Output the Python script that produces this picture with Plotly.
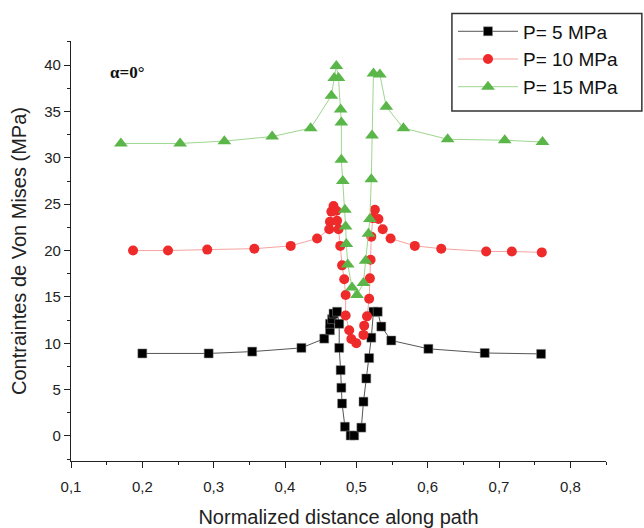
import plotly.graph_objects as go

# ---- data ----
x_p5 = [0.200, 0.293, 0.354, 0.423, 0.455, 0.463, 0.463, 0.466, 0.468, 0.473, 0.476, 0.476,
        0.478, 0.479, 0.480, 0.484, 0.492, 0.497, 0.507, 0.510, 0.514, 0.518, 0.521, 0.524,
        0.530, 0.535, 0.549, 0.601, 0.680, 0.759]
y_p5 = [8.9, 8.9, 9.1, 9.5, 10.5, 11.4, 12.1, 12.6, 13.2, 13.4, 12.1, 9.5,
        7.1, 5.2, 3.5, 1.0, 0.05, 0.05, 0.9, 3.7, 6.2, 8.4, 10.6, 13.4,
        13.4, 11.8, 10.3, 9.4, 8.95, 8.85]

x_p10 = [0.187, 0.236, 0.291, 0.357, 0.408, 0.445, 0.462, 0.463, 0.465, 0.468, 0.472, 0.473,
         0.475, 0.4775, 0.480, 0.483, 0.485, 0.485, 0.490, 0.493, 0.500, 0.510, 0.511, 0.515,
         0.518, 0.519, 0.520, 0.521, 0.523, 0.526, 0.531, 0.537, 0.548, 0.582, 0.619, 0.682,
         0.718, 0.760]
y_p10 = [20.0, 20.0, 20.1, 20.2, 20.5, 21.3, 22.3, 23.1, 24.2, 24.8, 24.3, 23.2,
         22.3, 20.5, 18.4, 16.9, 15.2, 13.0, 11.4, 10.45, 10.0, 10.9, 11.9, 12.9,
         14.8, 17.0, 19.0, 21.5, 23.5, 24.4, 23.4, 22.3, 21.3, 20.5, 20.2, 19.9,
         19.9, 19.8]

x_p15 = [0.170, 0.253, 0.315, 0.382, 0.436, 0.465, 0.469, 0.472, 0.475, 0.478, 0.479, 0.479,
         0.481, 0.484, 0.485, 0.486, 0.488, 0.494, 0.501, 0.510, 0.513, 0.517, 0.519, 0.521,
         0.522, 0.524, 0.533, 0.542, 0.566, 0.628, 0.708, 0.761]
y_p15 = [31.55, 31.55, 31.8, 32.3, 33.2, 36.7, 38.6, 39.9, 38.6, 35.2, 33.8, 29.8,
         27.5, 24.4, 22.6, 20.7, 18.5, 16.0, 15.2, 16.5, 18.9, 21.8, 23.4, 27.7,
         32.4, 39.1, 39.0, 35.5, 33.2, 32.0, 31.9, 31.7]

series_names = ["P= 5 MPa", "P= 10 MPa", "P= 15 MPa"]
x_tickvals = [0.1, 0.2, 0.3, 0.4, 0.5, 0.6, 0.7, 0.8]
x_ticktext = ["0,1", "0,2", "0,3", "0,4", "0,5", "0,6", "0,7", "0,8"]
y_tickvals = [0, 5, 10, 15, 20, 25, 30, 35, 40]

FONT = "Arial, 'Liberation Sans', sans-serif"
AX = "#222222"

fig = go.Figure()
fig.add_trace(go.Scatter(
    x=x_p5, y=y_p5, name=series_names[0], mode="lines+markers",
    line=dict(color="#555555", width=1),
    marker=dict(symbol="square", size=9, color="#000000",
                line=dict(width=0.5, color="#888888"))))
fig.add_trace(go.Scatter(
    x=x_p10, y=y_p10, name=series_names[1], mode="lines+markers",
    line=dict(color="#f5a3a0", width=1),
    marker=dict(symbol="circle", size=10, color="#ee2a2a", line=dict(width=0))))
fig.add_trace(go.Scatter(
    x=x_p15, y=y_p15, name=series_names[2], mode="lines+markers",
    line=dict(color="#9ed68f", width=1),
    marker=dict(symbol="triangle-up", size=12, color="#5ab648", line=dict(width=0))))

fig.update_layout(
    width=644, height=528,
    margin=dict(l=71, r=38, t=35, b=67),
    paper_bgcolor="white", plot_bgcolor="white",
    separators=",.",
    font=dict(family=FONT, color="#111111"),
    showlegend=True,
    legend=dict(
        x=0.714, y=1.068, xanchor="left", yanchor="top",
        bgcolor="rgba(0,0,0,0)", borderwidth=0,
        font=dict(size=19, family=FONT, color="#111111"),
        itemwidth=60, tracegroupgap=0,
    ),
    xaxis=dict(
        range=[0.1, 0.85], tickmode="array",
        tickvals=x_tickvals, ticktext=x_ticktext,
        ticks="outside", ticklen=6, tickwidth=1.2, tickcolor=AX,
        minor=dict(dtick=0.05, tick0=0.05, ticks="outside", ticklen=3, tickcolor=AX, tickwidth=1),
        showline=True, linecolor=AX, linewidth=1.2,
        showgrid=False, zeroline=False, automargin=False,
        ticklabelstandoff=6,
        tickfont=dict(size=15, family=FONT, color=AX),
        title=dict(text="Normalized distance along path", font=dict(size=20, family=FONT, color=AX),
                   standoff=15),
    ),
    yaxis=dict(
        range=[-2.7, 42.6], tickmode="array",
        tickvals=y_tickvals,
        ticks="outside", ticklen=6, tickwidth=1.2, tickcolor=AX,
        minor=dict(dtick=2.5, tick0=0, ticks="outside", ticklen=3, tickcolor=AX, tickwidth=1),
        showline=True, linecolor=AX, linewidth=1.2,
        showgrid=False, zeroline=False, automargin=False,
        tickfont=dict(size=15, family=FONT, color=AX),
        title=dict(text="Contraintes de Von Mises (MPa)", font=dict(size=20, family=FONT, color=AX),
                   standoff=12),
    ),
)

# legend frame
fig.add_shape(type="rect", xref="paper", yref="paper",
              x0=0.712, x1=1.067, y0=0.8333, y1=1.0657,
              line=dict(color="#333333", width=1.5), fillcolor="rgba(0,0,0,0)", layer="above")

fig.add_annotation(
    text="<b>α=0°</b>", xref="paper", yref="paper", x=0.105, y=0.926,
    xanchor="center", yanchor="middle", showarrow=False,
    font=dict(family="'Times New Roman', 'Liberation Serif', serif", size=17, color="#111111"),
)

fig.write_html("out.html")
